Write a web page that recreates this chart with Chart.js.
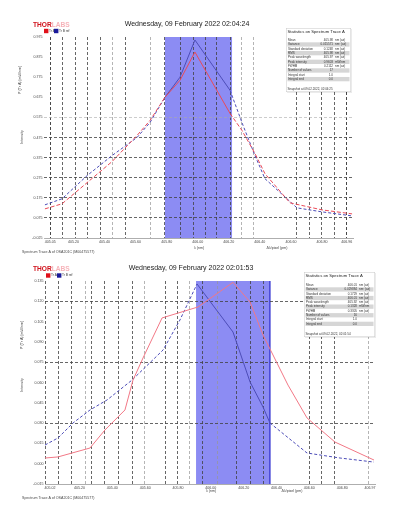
<!DOCTYPE html>
<html>
<head>
<meta charset="utf-8">
<script src="https://cdn.jsdelivr.net/npm/chart.js@4.4.0/dist/chart.umd.min.js"></script>
<style>
html, body { margin: 0; padding: 0; background: #fff; }
canvas { position: absolute; left: 0; }
#c1 { top: 0; }
#c2 { top: 255px; }
</style>
</head>
<body>
<canvas id="c1" width="398" height="255"></canvas>
<canvas id="c2" width="398" height="256"></canvas>
<script>
// snapshot 1 (02:04:24) - wavelength in nm, intensity
const wlTopA = [405.016, 405.126, 405.287, 405.448, 405.609, 405.693, 405.789, 405.886, 405.982, 406.208, 406.285, 406.369, 406.433, 406.594, 406.800, 406.994]
const inTopA = [0.120, 0.145, 0.250, 0.355, 0.485, 0.560, 0.675, 0.760, 0.900, 0.595, 0.510, 0.395, 0.295, 0.150, 0.115, 0.095]
const wlTopB = [405.016, 405.126, 405.287, 405.448, 405.609, 405.693, 405.789, 405.886, 405.982, 406.208, 406.292, 406.369, 406.433, 406.639, 406.800, 406.994]
const inTopB = [0.140, 0.170, 0.285, 0.385, 0.475, 0.550, 0.675, 0.775, 0.960, 0.710, 0.535, 0.385, 0.270, 0.125, 0.105, 0.085]

// snapshot 2 (02:01:53)
const wlBotA = [404.990, 405.069, 405.264, 405.355, 405.477, 405.526, 405.587, 405.703, 405.922, 406.135, 406.239, 406.318, 406.470, 406.586, 406.756, 406.994]
const inBotA = [0.0042, 0.0050, 0.0116, 0.0249, 0.0397, 0.0618, 0.0781, 0.1077, 0.1158, 0.1340, 0.1195, 0.0951, 0.0581, 0.0338, 0.0160, 0.0027]
const wlBotB = [404.990, 405.069, 405.161, 405.264, 405.368, 405.520, 405.709, 405.812, 405.916, 406.135, 406.239, 406.318, 406.360, 406.586, 406.787, 406.994]
const inBotB = [0.0138, 0.0190, 0.0301, 0.0397, 0.0471, 0.0618, 0.0840, 0.1062, 0.1328, 0.0973, 0.0604, 0.0419, 0.0301, 0.0079, 0.0042, 0.0012]

// axes
const xRangeTop = [405.01, 407.00]
const xTicksTop = [405.05, 405.20, 405.40, 405.60, 405.80, 406.00, 406.20, 406.40, 406.60, 406.80, 406.96]
const yTicksTop = [-0.025, 0.075, 0.175, 0.275, 0.375, 0.475, 0.575, 0.675, 0.775, 0.875, 0.975]
const yDarkTop = [0.075, 0.175, 0.275, 0.375, 0.475]
const yLightTop = [0.575]
const xGridTop = [405.049, 405.126, 405.210, 405.287, 405.371, 405.454, 405.532, 405.693, 405.789, 405.886, 405.970, 406.047, 406.124, 406.208, 406.285, 406.362, 406.639, 406.717, 406.800, 406.878, 406.961]
const xGridLightTop = [405.454, 405.693, 406.285, 406.362]
const bandTop = [405.789, 406.221]

const xRangeBot = [404.99, 407.00]
const xTicksBot = [405.02, 405.20, 405.40, 405.60, 405.80, 406.00, 406.20, 406.40, 406.60, 406.80, 406.97]
const yTicksBot = [-0.015, 0.000, 0.015, 0.030, 0.045, 0.060, 0.075, 0.090, 0.105, 0.120, 0.135]
const yDarkBot = [0.030, 0.075, 0.120]
const yLightBot = []
const xGridBot = [404.996, 405.075, 405.154, 405.234, 405.276, 405.355, 405.435, 405.520, 405.593, 405.721, 405.800, 405.873, 405.952, 406.038, 406.159, 406.239, 406.318, 406.598, 406.677, 406.756, 406.963]
const xGridLightBot = [405.234, 405.593, 405.873, 406.038, 406.963]
const bandBot = [405.910, 406.360]

const statNames = ["Mean", "Variance", "Standard deviation", "RMS", "Peak wavelength", "Peak intensity", "FWHM", "Number of values", "Integral start", "Integral end"]
const statValsTop = ["405.98", "0.015571", "0.1248", "405.98", "405.97", "0.9603", "0.2112", "17", "1.0", "0.0"]
const statUnitsTop = ["nm (air)", "nm² (air)", "nm (air)", "nm (air)", "nm (air)", "mW/nm", "nm (air)", "", "", ""]
const statValsBot = ["406.01", "0.029884", "0.1729", "406.01", "405.92", "0.1328", "0.3305", "16", "1.0", "0.0"]
const statUnitsBot = ["nm (air)", "nm² (air)", "nm (air)", "nm (air)", "nm (air)", "mW/nm", "nm (air)", "", "", ""]

const RED = '#ea4a58'
const PINK = '#f27886'
const BLUE = '#4d4db8'
const FONT = '"Liberation Sans", Arial, sans-serif'

const has = (arr, v) => arr.some(a => Math.abs(a - v) < 1e-6)
const pts = (xs, ys) => xs.map((x, i) => ({ x: x, y: ys[i] }))

function decoPlugin(cfg) {
	return {
		id: 'deco',
		beforeDraw(chart) {
			const { ctx, chartArea: a, scales: { x } } = chart
			const l = x.getPixelForValue(cfg.band[0])
			const r = x.getPixelForValue(cfg.band[1])
			ctx.save()
			ctx.fillStyle = 'rgb(140,140,243)'
			ctx.fillRect(l, a.top, r - l, a.bottom - a.top)
			if (cfg.bandEdge) {
				ctx.strokeStyle = '#3030d0'
				ctx.lineWidth = 1.3
				ctx.beginPath()
				ctx.moveTo(r, a.top)
				ctx.lineTo(r, a.bottom)
				ctx.stroke()
			}
			ctx.restore()
		},
		afterDraw(chart) {
			const ctx = chart.ctx
			ctx.save()
			// logo
			ctx.textBaseline = 'alphabetic'
			ctx.textAlign = 'left'
			ctx.font = 'bold 6.6px ' + FONT
			ctx.fillStyle = '#d0121b'
			ctx.fillText('THOR', cfg.logo[0], cfg.logo[1])
			const w = ctx.measureText('THOR').width
			ctx.fillStyle = '#f6b3b9'
			ctx.fillText('LABS', cfg.logo[0] + w, cfg.logo[1])
			// title
			ctx.font = '7px ' + FONT
			ctx.fillStyle = '#222'
			ctx.textAlign = 'center'
			ctx.textBaseline = 'middle'
			ctx.fillText(cfg.title, cfg.titlePos[0], cfg.titlePos[1])
			// legend
			ctx.font = '3.2px ' + FONT
			ctx.textAlign = 'left'
			cfg.legend.forEach(it => {
				ctx.fillStyle = it.color
				ctx.fillRect(it.x, cfg.legendY - 2.2, 4.4, 4.4)
				ctx.fillStyle = '#333'
				ctx.fillText(it.text, it.x + 5, cfg.legendY)
			})
			// axis titles
			ctx.font = '3.6px ' + FONT
			ctx.fillStyle = '#444'
			ctx.textAlign = 'center'
			cfg.yTitles.forEach(t => {
				ctx.save()
				ctx.translate(t.x, t.y)
				ctx.rotate(-Math.PI / 2)
				ctx.fillText(t.text, 0, 0)
				ctx.restore()
			})
			cfg.xTitles.forEach(t => ctx.fillText(t.text, t.x, t.y))
			ctx.textAlign = 'left'
			ctx.fillText(cfg.footer, cfg.footerPos[0], cfg.footerPos[1])
			// statistics box
			const s = cfg.stats
			ctx.fillStyle = 'rgba(0,0,0,0.08)'
			ctx.fillRect(s.x + 1, s.y + 1, s.w, s.h)
			ctx.fillStyle = '#fff'
			ctx.fillRect(s.x, s.y, s.w, s.h)
			ctx.strokeStyle = '#c8c8c8'
			ctx.lineWidth = 0.5
			ctx.strokeRect(s.x + 0.25, s.y + 0.25, s.w - 0.5, s.h - 0.5)
			ctx.fillStyle = '#222'
			ctx.font = '4.2px ' + FONT
			ctx.fillText(cfg.statsTitle, s.x + 1.5, s.titleY)
			ctx.font = '3px ' + FONT
			statNames.forEach((n, i) => {
				const ry = s.rowTop + i * s.rowH
				if (i % 2 == 1) {
					ctx.fillStyle = '#d6d6d6'
					ctx.fillRect(s.x + 1.5, ry, s.w - 3, s.rowH)
				}
				ctx.fillStyle = '#333'
				ctx.textAlign = 'left'
				ctx.fillText(n, s.x + 2, ry + s.rowH / 2)
				ctx.textAlign = 'right'
				ctx.fillText(cfg.statVals[i], s.x + s.valX, ry + s.rowH / 2)
				ctx.textAlign = 'left'
				ctx.fillText(cfg.statUnits[i], s.x + s.unitX, ry + s.rowH / 2)
			})
			ctx.fillText(cfg.statsFooter, s.x + 1.5, s.footerY)
			ctx.restore()
		}
	}
}

function makeChart(id, d) {
	const band = d.band
	const seg = dash => ({
		borderDash: c => (c.p0.parsed.x >= band[0] - 1e-6 && c.p1.parsed.x <= band[1] + 1e-6) ? [] : dash
	})
	// one x axis: label ticks + grid ticks merged (no duplicates)
	const xAll = d.xTicks.concat(d.xGrid.filter(v => !has(d.xTicks, v))).sort((a, b) => a - b)
	const nearGrid = v => d.xGrid.some(g => Math.abs(g - v) < 0.002)
	const nearLight = v => d.xGridLight.some(g => Math.abs(g - v) < 0.002)
	return new Chart(document.getElementById(id), {
		type: 'line',
		data: {
			datasets: [{
				label: 'Trace A',
				data: pts(d.wlA, d.inA),
				borderColor: d.colA,
				borderWidth: 1,
				pointRadius: 0,
				tension: 0,
				segment: seg(d.dashA)
			}, {
				label: 'Trace B',
				data: pts(d.wlB, d.inB),
				borderColor: BLUE,
				borderWidth: 1,
				pointRadius: 0,
				tension: 0,
				segment: seg([3, 2])
			}]
		},
		options: {
			responsive: false,
			animation: false,
			events: [],
			layout: { padding: d.padding },
			plugins: { legend: { display: false }, tooltip: { enabled: false } },
			scales: {
				x: {
					type: 'linear',
					position: 'bottom',
					min: d.xRange[0],
					max: d.xRange[1],
					afterBuildTicks: s => { s.ticks = xAll.map(v => ({ value: v })) },
					afterFit: s => { s.height = 10 },
					border: { display: true, color: '#999', width: 0.8, dash: [3, 2] },
					grid: {
						drawTicks: false,
						lineWidth: 1,
						color: c => {
							if (!c.tick || !nearGrid(c.tick.value)) return 'rgba(0,0,0,0)'
							return nearLight(c.tick.value) ? 'rgba(150,150,150,0.7)' : 'rgba(65,65,65,0.8)'
						}
					},
					ticks: {
						autoSkip: false,
						maxRotation: 0,
						padding: 2,
						color: '#444',
						font: { size: 3.6, family: FONT },
						callback: v => has(d.xTicks, v) ? v.toFixed(2) : ''
					}
				},
				y: {
					type: 'linear',
					min: d.yTicks[0],
					max: d.yTicks[d.yTicks.length - 1],
					afterBuildTicks: s => { s.ticks = d.yTicks.map(v => ({ value: v })) },
					afterFit: s => { s.width = 14 },
					border: { display: false, dash: [3, 2] },
					grid: {
						drawTicks: false,
						lineWidth: 1,
						color: c => {
							if (!c.tick) return 'rgba(0,0,0,0)'
							if (has(d.yDark, c.tick.value)) return 'rgba(65,65,65,0.8)'
							if (has(d.yLight, c.tick.value)) return 'rgba(170,170,170,0.6)'
							return 'rgba(0,0,0,0)'
						}
					},
					ticks: {
						padding: 1.5,
						color: '#444',
						font: { size: 3.6, family: FONT },
						callback: v => v.toFixed(3)
					}
				}
			}
		},
		plugins: [decoPlugin(d.deco)]
	})
}

makeChart('c1', {
	wlA: wlTopA, inA: inTopA, wlB: wlTopB, inB: inTopB,
	colA: RED, dashA: [4, 2],
	xRange: xRangeTop, xTicks: xTicksTop, xGrid: xGridTop, xGridLight: xGridLightTop,
	yTicks: yTicksTop, yDark: yDarkTop, yLight: yLightTop,
	band: bandTop,
	padding: { left: 30, right: 45, top: 37, bottom: 7 },
	deco: {
		band: bandTop, bandEdge: false,
		logo: [33, 27], title: 'Wednesday, 09 February 2022 02:04:24', titlePos: [187, 24.5],
		legendY: 31, legend: [{ x: 44, color: '#e0101a', text: 'Tr A' }, { x: 54, color: '#1a1a9a', text: 'Tr B ref' }],
		yTitles: [{ text: 'P (Tr A) [mW/nm]', x: 20, y: 80 }, { text: 'Intensity', x: 22, y: 137 }],
		xTitles: [{ text: 'λ (nm)', x: 199, y: 247.5 }, { text: 'Δλ/pixel (pm)', x: 277, y: 247.5 }],
		footer: 'Spectrum Trace A of OSA201C (M00475577)', footerPos: [22, 252],
		statsTitle: 'Statistics on Spectrum Trace A', statsFooter: 'Snapshot at 09.02.2022, 02:04:25',
		statVals: statValsTop, statUnits: statUnitsTop,
		stats: { x: 286, y: 28, w: 65, h: 64, titleY: 32, rowTop: 38, rowH: 4.33, valX: 47, unitX: 49, footerY: 89.5 }
	}
})

makeChart('c2', {
	wlA: wlBotA, inA: inBotA, wlB: wlBotB, inB: inBotB,
	colA: PINK, dashA: [],
	xRange: xRangeBot, xTicks: xTicksBot, xGrid: xGridBot, xGridLight: xGridLightBot,
	yTicks: yTicksBot, yDark: yDarkBot, yLight: yLightBot,
	band: bandBot,
	padding: { left: 31, right: 23, top: 26, bottom: 17 },
	deco: {
		band: bandBot, bandEdge: true,
		logo: [33, 16], title: 'Wednesday, 09 February 2022 02:01:53', titlePos: [191, 13],
		legendY: 20.5, legend: [{ x: 46, color: '#e0101a', text: 'Tr A' }, { x: 57, color: '#1a1a9a', text: 'Tr B ref' }],
		yTitles: [{ text: 'P (Tr A) [mW/nm]', x: 22, y: 80 }, { text: 'Intensity', x: 22, y: 130 }],
		xTitles: [{ text: 'λ (nm)', x: 211, y: 236 }, { text: 'Δλ/pixel (pm)', x: 292, y: 236 }],
		footer: 'Spectrum Trace A of OSA201C (M00475577)', footerPos: [22, 243],
		statsTitle: 'Statistics on Spectrum Trace A', statsFooter: 'Snapshot at 09.02.2022, 02:01:54',
		statVals: statValsBot, statUnits: statUnitsBot,
		stats: { x: 304, y: 17, w: 71, h: 65, titleY: 21, rowTop: 28, rowH: 4.3, valX: 53, unitX: 55, footerY: 79 }
	}
})
</script>
</body>
</html>
